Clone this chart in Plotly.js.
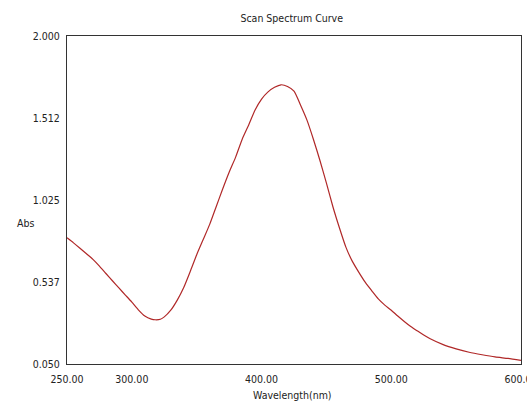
<!DOCTYPE html>
<html>
<head>
<meta charset="utf-8">
<script src="https://cdn.plot.ly/plotly-3.0.1.min.js"></script>
<style>
html,body{margin:0;padding:0;background:#fff;}
#chart{width:527px;height:405px;}
#chart text{font-stretch:condensed !important;}
</style>
</head>
<body>
<div id="chart"></div>
<script>
const wavelength = [250,255,260,265,270,275,280,285,290,295,300,305,310,315,318,322,325,330,335,340,345,350,355,360,365,370,375,380,385,390,395,400,405,410,415,420,425,430,435,440,445,450,455,460,465,470,475,480,485,490,495,500,505,510,515,520,525,530,540,550,560,570,580,590,600];
const absorbance = [0.80,0.77,0.738,0.705,0.672,0.632,0.588,0.545,0.502,0.46,0.418,0.372,0.335,0.317,0.313,0.316,0.33,0.37,0.43,0.505,0.60,0.70,0.79,0.88,0.985,1.09,1.19,1.28,1.385,1.47,1.56,1.625,1.668,1.695,1.71,1.70,1.672,1.59,1.50,1.385,1.26,1.125,0.985,0.86,0.745,0.66,0.595,0.535,0.485,0.437,0.40,0.37,0.335,0.303,0.273,0.247,0.222,0.20,0.165,0.14,0.12,0.105,0.092,0.083,0.072];
const xTickVals = [250,300,400,500,600];
const xTickText = ["250.00","300.00","400.00","500.00","600.00"];
const yTickVals = [0.050,0.537,1.025,1.512,2.000];
const yTickText = ["0.050","0.537","1.025","1.512","2.000"];
const chartTitle = "Scan Spectrum Curve";
const xTitle = "Wavelength(nm)";
const yTitle = "Abs";

const fontFam = "'DejaVu Sans Condensed','DejaVu Sans',sans-serif";
const fsz = 10.5;
const fcol = '#222';

const trace = {
  x: wavelength, y: absorbance, type: 'scatter', mode: 'lines',
  line: {color: '#b02828', width: 1.2, shape: 'spline', smoothing: 0.6}, hoverinfo: 'skip'
};

const layout = {
  width: 527, height: 405,
  margin: {l: 67, r: 6, t: 36, b: 41, pad: 0},
  paper_bgcolor: '#fff', plot_bgcolor: '#fff',
  showlegend: false,
  font: {family: fontFam, size: fsz, color: fcol},
  title: {text: chartTitle, x: 0.495, xref: 'paper', xanchor: 'center', y: 0.955, yanchor: 'middle', font: {family: fontFam, size: fsz, color: fcol}},
  xaxis: {
    range: [250, 600], tickvals: xTickVals, ticktext: xTickText,
    showgrid: false, zeroline: false, showline: true, mirror: true,
    linecolor: '#333', linewidth: 1, ticks: '', ticklabelstandoff: 5,
    ticklabeloverflow: 'allow',
    tickfont: {family: fontFam, size: fsz, color: fcol}
  },
  yaxis: {
    range: [0.050, 2.000], tickvals: yTickVals, ticktext: yTickText,
    showgrid: false, zeroline: false, showline: true, mirror: true,
    linecolor: '#333', linewidth: 1, ticks: '', ticklabelstandoff: 4,
    ticklabeloverflow: 'allow',
    tickfont: {family: fontFam, size: fsz, color: fcol}
  },
  annotations: [
    {text: xTitle, xref: 'paper', yref: 'paper', x: 0.497, y: -0.094, xanchor: 'center', yanchor: 'middle', showarrow: false, font: {family: fontFam, size: fsz, color: fcol}},
    {text: yTitle, xref: 'paper', yref: 'paper', x: -0.092, y: 0.431, xanchor: 'center', yanchor: 'middle', showarrow: false, font: {family: fontFam, size: fsz, color: fcol}}
  ]
};

Plotly.newPlot('chart', [trace], layout, {displayModeBar: false, staticPlot: true});
</script>
</body>
</html>
